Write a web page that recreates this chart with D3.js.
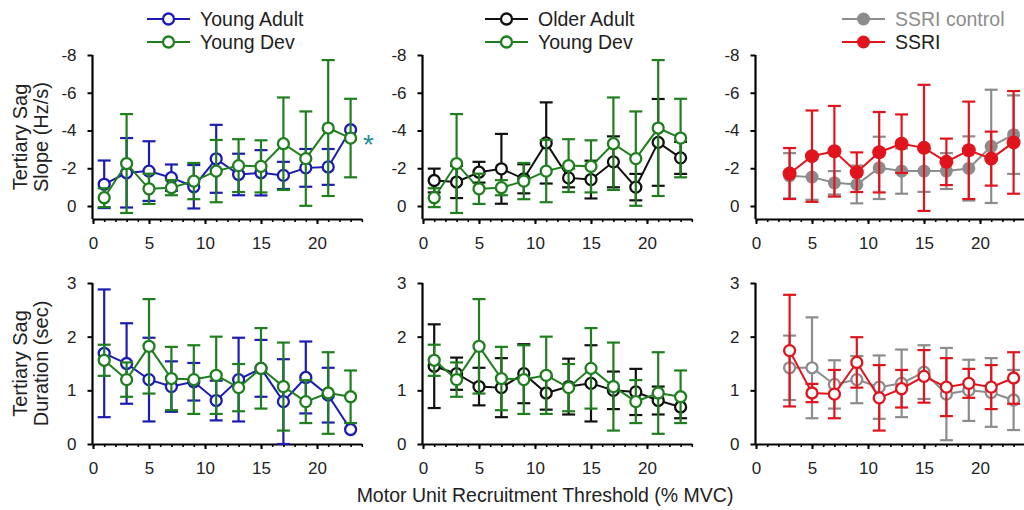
<!DOCTYPE html>
<html lang="en">
<head>
<meta charset="UTF-8" />
<title>Tertiary Sag</title>
<script src="https://cdnjs.cloudflare.com/ajax/libs/d3/7.8.5/d3.min.js"></script>
<style>
  * { margin: 0; padding: 0; box-sizing: border-box; }
  body { background: #fff; width: 1024px; height: 510px; overflow: hidden; }
  svg { display: block; font-family: 'Liberation Sans', Arial, sans-serif; }
</style>
</head>
<body>
<div id="chart"></div>
<script>
  // ---- data (slope is plotted on an inverted axis) ----
  const thresholds = [1, 3, 5, 7, 9, 11, 13, 15, 17, 19, 21, 23];
  const thresholdsSsri = [3, 5, 7, 9, 11, 13, 15, 17, 19, 21, 23];
  const xTicks = [0, 5, 10, 15, 20];
  const slopeTicks = [0, -2, -4, -6, -8];
  const durationTicks = [0, 1, 2, 3];

  // slope (Hz/s)
  const slopeYoungAdult   = [-1.15, -1.76, -1.85, -1.5, -1.02, -2.5, -1.67, -1.76, -1.62, -2.02, -2.07, -4.04];
  const slopeYoungAdultSd = [1.26, 1.84, 1.58, 0.7, 1.15, 1.8, 1.1, 1.2, 0.72, 1.0, 0.95, 0];
  const slopeYoungDev     = [-0.44, -2.25, -0.91, -0.97, -1.32, -1.85, -2.14, -2.1, -3.3, -2.51, -4.13, -3.6];
  const slopeYoungDevSd   = [0.5, 2.62, 0.8, 0.4, 0.96, 1.65, 1.4, 1.38, 2.45, 2.5, 3.6, 2.08];
  const slopeOlderAdult   = [-1.35, -1.27, -1.79, -1.97, -1.44, -3.34, -1.49, -1.4, -2.34, -1.0, -3.37, -2.55];
  const slopeOlderAdultSd = [0.63, 0.85, 0.55, 1.85, 0.77, 2.15, 0.5, 1.0, 1.35, 0.7, 2.3, 0.85];
  const slopeSsriCtrl     = [-1.6, -1.53, -1.23, -1.14, -2.02, -1.85, -1.85, -1.85, -1.99, -3.16, -3.78];
  const slopeSsriCtrlSd   = [1.2, 1.2, 0.62, 1.0, 1.65, 1.2, 1.1, 0.95, 1.7, 3.0, 2.08];
  const slopeSsri         = [-1.72, -2.64, -2.9, -1.79, -2.85, -3.3, -3.08, -2.34, -2.95, -2.51, -3.37];
  const slopeSsriSd       = [1.35, 2.42, 2.4, 1.05, 2.13, 1.55, 3.34, 1.23, 2.58, 1.43, 2.72];

  // duration (sec)
  const durYoungAdult   = [1.69, 1.5, 1.2, 1.07, 1.16, 0.81, 1.2, 1.41, 0.79, 1.24, 0.91, 0.27];
  const durYoungAdultSd = [1.19, 0.75, 0.78, 0.47, 0.35, 0.37, 0.78, 0.53, 0.79, 0.67, 0.51, 0];
  const durYoungDev     = [1.56, 1.2, 1.82, 1.22, 1.2, 1.28, 1.05, 1.41, 1.07, 0.79, 0.95, 0.88];
  const durYoungDevSd   = [0.29, 0.32, 0.88, 0.59, 0.64, 0.72, 0.44, 0.75, 0.82, 0.4, 0.76, 0.49];
  const durOlderAdult   = [1.45, 1.31, 1.07, 1.05, 1.31, 0.95, 1.07, 1.13, 1.0, 0.97, 0.81, 0.69];
  const durOlderAdultSd = [0.78, 0.3, 0.35, 0.55, 0.55, 0.31, 0.52, 0.71, 0.35, 0.43, 0.26, 0.21];
  const durSsriCtrl     = [1.42, 1.42, 1.11, 1.2, 1.06, 1.13, 1.34, 0.93, 1.0, 0.96, 0.82];
  const durSsriCtrlSd   = [0.6, 0.94, 0.45, 0.44, 0.59, 0.63, 0.5, 0.86, 0.57, 0.64, 0.56];
  const durSsri         = [1.74, 0.95, 0.93, 1.52, 0.86, 1.03, 1.26, 1.06, 1.13, 1.06, 1.23];
  const durSsriSd       = [1.04, 0.17, 0.45, 0.47, 0.61, 0.35, 0.49, 0.54, 0.27, 0.41, 0.48];

  const BLUE = "#1c1cb2", GREEN = "#1f7f1f", BLACK = "#111", GREY = "#8c8c8c", RED = "#e0141c";
  const FONT = "'Liberation Sans', Arial, sans-serif";

  const svg = d3.select("#chart").append("svg")
    .attr("width", 1024).attr("height", 510);

  function series(xs, ys, sd, color, filled, r) {
    const pts = xs.map((x, i) => ({ x, y: ys[i], sd: sd[i] }));
    return { pts, color, filled, r };
  }

  const panelLeft = [93, 423, 756];
  const rows = [
    { yDomain: [0, -8], yRange: [206, 55], axisY: 219, ticks: slopeTicks,
      title: ["Tertiary Sag", "Slope (Hz/s)"] },
    { yDomain: [0, 3], yRange: [444, 283], axisY: 444, ticks: durationTicks,
      title: ["Tertiary Sag", "Duration (sec)"] }
  ];

  const panelSeries = [
    [ // top row
      [series(thresholds, slopeYoungAdult, slopeYoungAdultSd, BLUE, false, 5.5),
       series(thresholds, slopeYoungDev, slopeYoungDevSd, GREEN, false, 5.5)],
      [series(thresholds, slopeOlderAdult, slopeOlderAdultSd, BLACK, false, 5.5),
       series(thresholds, slopeYoungDev, slopeYoungDevSd, GREEN, false, 5.5)],
      [series(thresholdsSsri, slopeSsriCtrl, slopeSsriCtrlSd, GREY, true, 6.5),
       series(thresholdsSsri, slopeSsri, slopeSsriSd, RED, true, 7)]
    ],
    [ // bottom row
      [series(thresholds, durYoungAdult, durYoungAdultSd, BLUE, false, 5.5),
       series(thresholds, durYoungDev, durYoungDevSd, GREEN, false, 5.5)],
      [series(thresholds, durOlderAdult, durOlderAdultSd, BLACK, false, 5.5),
       series(thresholds, durYoungDev, durYoungDevSd, GREEN, false, 5.5)],
      [series(thresholdsSsri, durSsriCtrl, durSsriCtrlSd, GREY, false, 5.5),
       series(thresholdsSsri, durSsri, durSsriSd, RED, false, 5.5)]
    ]
  ];

  function drawPanel(row, col) {
    const cfg = rows[row];
    const x0 = panelLeft[col];
    const x = d3.scaleLinear().domain([0, 24]).range([x0, x0 + 24 * 11.2]);
    const y = d3.scaleLinear().domain(cfg.yDomain).range(cfg.yRange);
    const g = svg.append("g");

    // x axis: minor ticks every unit, major every 5
    const xMinor = g.append("g").attr("transform", `translate(0,${cfg.axisY})`)
      .call(d3.axisBottom(x).tickValues(d3.range(0, 25)).tickSize(3).tickSizeOuter(0).tickFormat(""));
    xMinor.select(".domain").attr("stroke-width", 2.2);
    xMinor.selectAll(".tick line").attr("stroke-width", 1.6);
    const xMajor = g.append("g").attr("transform", `translate(0,${cfg.axisY})`)
      .call(d3.axisBottom(x).tickValues(xTicks).tickSize(5).tickPadding(13));
    xMajor.select(".domain").remove();
    xMajor.selectAll(".tick line").attr("stroke-width", 2);
    xMajor.selectAll("text").attr("font-size", 17).attr("fill", "#222").attr("font-family", FONT);

    // y axis (plain hyphen minus, integer labels)
    const yAx = g.append("g").attr("transform", `translate(${x0 - 0.5},0)`)
      .call(d3.axisLeft(y).tickValues(cfg.ticks).tickSize(5).tickSizeOuter(0).tickPadding(11)
        .tickFormat(d => String(d)));
    yAx.select(".domain").attr("d", `M0,${y(cfg.ticks[cfg.ticks.length - 1])}V${cfg.axisY}`)
      .attr("stroke-width", 2.2);
    yAx.selectAll(".tick line").attr("stroke-width", 2);
    yAx.selectAll("text").attr("font-size", 17).attr("fill", "#222").attr("font-family", FONT);

    // data series
    const line = d3.line().x(d => x(d.x)).y(d => y(d.y));
    panelSeries[row][col].forEach(s => {
      const sg = g.append("g");
      const bars = sg.selectAll("g.err").data(s.pts.filter(d => d.sd > 0)).join("g");
      bars.append("line")
        .attr("x1", d => x(d.x)).attr("x2", d => x(d.x))
        .attr("y1", d => y(d.y - d.sd)).attr("y2", d => y(d.y + d.sd));
      [-1, 1].forEach(k => {
        bars.append("line")
          .attr("x1", d => x(d.x) - 6.5).attr("x2", d => x(d.x) + 6.5)
          .attr("y1", d => y(d.y + k * d.sd)).attr("y2", d => y(d.y + k * d.sd));
      });
      bars.selectAll("line").attr("stroke", s.color).attr("stroke-width", 2.2);

      sg.append("path").datum(s.pts).attr("d", line)
        .attr("fill", "none").attr("stroke", s.color).attr("stroke-width", 2);

      sg.selectAll("circle").data(s.pts).join("circle")
        .attr("cx", d => x(d.x)).attr("cy", d => y(d.y)).attr("r", s.r)
        .attr("fill", s.filled ? s.color : "#fff")
        .attr("stroke", s.color).attr("stroke-width", s.filled ? 0 : 2.3);
    });

    // y-axis title (first column only)
    if (col === 0) {
      const cy = (cfg.yRange[1] + cfg.axisY) / 2;
      cfg.title.forEach((t, i) => {
        svg.append("text")
          .attr("transform", `translate(${27 + i * 21},${cy}) rotate(-90)`)
          .attr("text-anchor", "middle").attr("font-size", 20).attr("fill", "#222")
          .text(t);
      });
    }
    return { x, y };
  }

  let scalesTopLeft;
  for (let r = 0; r < 2; r++) {
    for (let c = 0; c < 3; c++) {
      const sc = drawPanel(r, c);
      if (r === 0 && c === 0) scalesTopLeft = sc;
    }
  }

  // significance marker
  svg.append("text")
    .attr("x", scalesTopLeft.x(24.1)).attr("y", scalesTopLeft.y(-3.6) + 16)
    .attr("font-size", 28).attr("fill", "#2a8c9c").text("*");

  // legends
  const legends = [
    { x: 147, items: [{ label: "Young Adult", color: BLUE, filled: false, text: "#222" },
                      { label: "Young Dev", color: GREEN, filled: false, text: "#222" }] },
    { x: 485, items: [{ label: "Older Adult", color: BLACK, filled: false, text: "#222" },
                      { label: "Young Dev", color: GREEN, filled: false, text: "#222" }] },
    { x: 842, items: [{ label: "SSRI control", color: GREY, filled: true, text: GREY },
                      { label: "SSRI", color: RED, filled: true, text: "#222" }] }
  ];
  legends.forEach(lg => {
    lg.items.forEach((it, i) => {
      const ly = 19 + i * 23;
      const lgG = svg.append("g");
      lgG.append("line").attr("x1", lg.x).attr("x2", lg.x + 43)
        .attr("y1", ly).attr("y2", ly).attr("stroke", it.color).attr("stroke-width", 2);
      lgG.append("circle").attr("cx", lg.x + 21.5).attr("cy", ly).attr("r", it.filled ? 6.5 : 5.5)
        .attr("fill", it.filled ? it.color : "#fff").attr("stroke", it.color)
        .attr("stroke-width", it.filled ? 0 : 2.3);
      lgG.append("text").attr("x", lg.x + 53).attr("y", ly + 7)
        .attr("font-size", 19.5).attr("fill", it.text).text(it.label);
    });
  });

  // shared x-axis title
  svg.append("text").attr("x", 545).attr("y", 502).attr("text-anchor", "middle")
    .attr("font-size", 19.5).attr("fill", "#222")
    .text("Motor Unit Recruitment Threshold (% MVC)");
</script>
</body>
</html>
